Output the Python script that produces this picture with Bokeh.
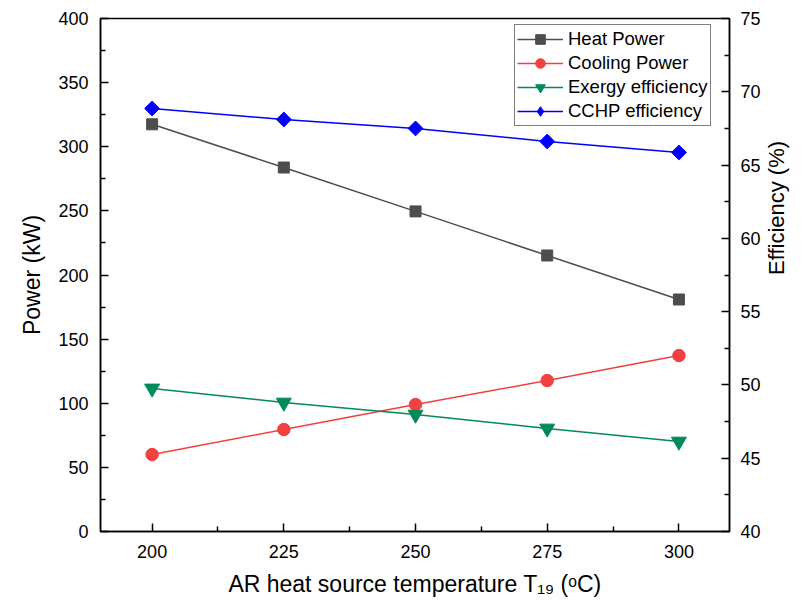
import math
from bokeh.plotting import figure
from bokeh.models import LinearAxis, Range1d, FixedTicker, Legend, LegendItem
from bokeh.embed import file_html
from bokeh.resources import INLINE

temps = [200, 225, 250, 275, 300]
heat_power = [317.5, 283.8, 249.6, 215.2, 180.9]
cooling_power = [60.0, 79.5, 99.0, 117.7, 137.2]
exergy_eff = [49.76, 48.80, 47.98, 47.03, 46.14]
cchp_eff = [68.86, 68.11, 67.50, 66.61, 65.86]

x_ticks = [200, 225, 250, 275, 300]
left_ticks = [0, 50, 100, 150, 200, 250, 300, 350, 400]
right_ticks = [40, 45, 50, 55, 60, 65, 70, 75]

FONT = "Liberation Sans"

p = figure(width=804, height=603, output_backend="svg", toolbar_location=None,
           x_range=Range1d(190.2, 309.6), y_range=Range1d(0, 400),
           min_border_left=100, min_border_right=74, min_border_top=18, min_border_bottom=72)
p.extra_y_ranges = {"eff": Range1d(40, 75)}
p.grid.visible = False
p.outline_line_color = "black"
p.outline_line_width = 1.5
p.background_fill_color = "white"
p.border_fill_color = "white"

def style_axis(ax, ticks, minor):
    ax.ticker = FixedTicker(ticks=ticks, minor_ticks=minor)
    ax.axis_line_width = 1.5
    ax.axis_line_color = "black"
    ax.major_tick_in = 8
    ax.major_tick_out = 0
    ax.minor_tick_in = 5
    ax.minor_tick_out = 0
    ax.major_tick_line_width = 1.5
    ax.minor_tick_line_width = 1.5
    ax.major_label_text_font = FONT
    ax.major_label_text_font_size = "18px"
    ax.major_label_text_color = "black"
    ax.axis_label_text_font = FONT
    ax.axis_label_text_font_size = "23px"
    ax.axis_label_text_font_style = "normal"
    ax.axis_label_text_color = "black"

xa = p.xaxis[0]
style_axis(xa, x_ticks, [212.5, 237.5, 262.5, 287.5])
xa.axis_label = "AR heat source temperature T\u2081\u2089 (\u1d52C)"
xa.major_label_standoff = 13
xa.axis_label_standoff = 10

ya = p.yaxis[0]
style_axis(ya, left_ticks, [25, 75, 125, 175, 225, 275, 325, 375])
ya.axis_label = "Power (kW)"
ya.major_label_standoff = 12
ya.axis_label_standoff = 10

ra = LinearAxis(y_range_name="eff")
style_axis(ra, right_ticks, [42.5, 47.5, 52.5, 57.5, 62.5, 67.5, 72.5])
ra.major_label_standoff = 11
ra.axis_label = "Efficiency (%)"
ra.axis_label_orientation = math.pi / 2
ra.axis_label_text_baseline = "top"
ra.axis_label_text_align = "center"
ra.axis_label_text_font_size = "22px"
ra.axis_label_standoff = 13
p.add_layout(ra, "right")

c_heat = "#4d4d4d"
c_cool = "#f04040"
c_exe = "#008a5a"
c_cchp = "#0000ff"

l1 = p.line(temps, heat_power, line_color=c_heat, line_width=1.5)
m1 = p.scatter(temps, heat_power, marker="square", size=11, fill_color=c_heat, line_color=c_heat)
l2 = p.line(temps, cooling_power, line_color=c_cool, line_width=1.5)
m2 = p.scatter(temps, cooling_power, marker="circle", size=12.5, fill_color=c_cool, line_color=c_cool)
l3 = p.line(temps, exergy_eff, line_color=c_exe, line_width=1.5, y_range_name="eff")
m3 = p.scatter(temps, exergy_eff, marker="inverted_triangle", size=15, fill_color=c_exe, line_color=c_exe, y_range_name="eff")
l4 = p.line(temps, cchp_eff, line_color=c_cchp, line_width=1.5, y_range_name="eff")
m4 = p.scatter(temps, cchp_eff, marker="square", angle=math.pi / 4, size=10.5, fill_color=c_cchp, line_color=c_cchp, y_range_name="eff")
# zero-size diamond used only for the legend swatch (legend draws markers unrotated)
d4 = p.scatter(temps, cchp_eff, marker="diamond", size=0, fill_color=c_cchp, line_color=c_cchp, y_range_name="eff")

legend = Legend(items=[
    LegendItem(label="Heat Power", renderers=[l1, m1]),
    LegendItem(label="Cooling Power", renderers=[l2, m2]),
    LegendItem(label="Exergy efficiency", renderers=[l3, m3]),
    LegendItem(label="CCHP efficiency", renderers=[l4, d4]),
], location=(414, 405))
legend.label_text_font = FONT
legend.label_text_font_size = "18.5px"
legend.label_text_color = "black"
legend.glyph_width = 46
legend.glyph_height = 24
legend.label_height = 24
legend.spacing = 0
legend.padding = 2
legend.margin = 0
legend.label_standoff = 5
legend.border_line_color = "black"
legend.border_line_width = 1
legend.background_fill_alpha = 1
p.add_layout(legend)

open("out.html", "w").write(file_html(p, INLINE))
